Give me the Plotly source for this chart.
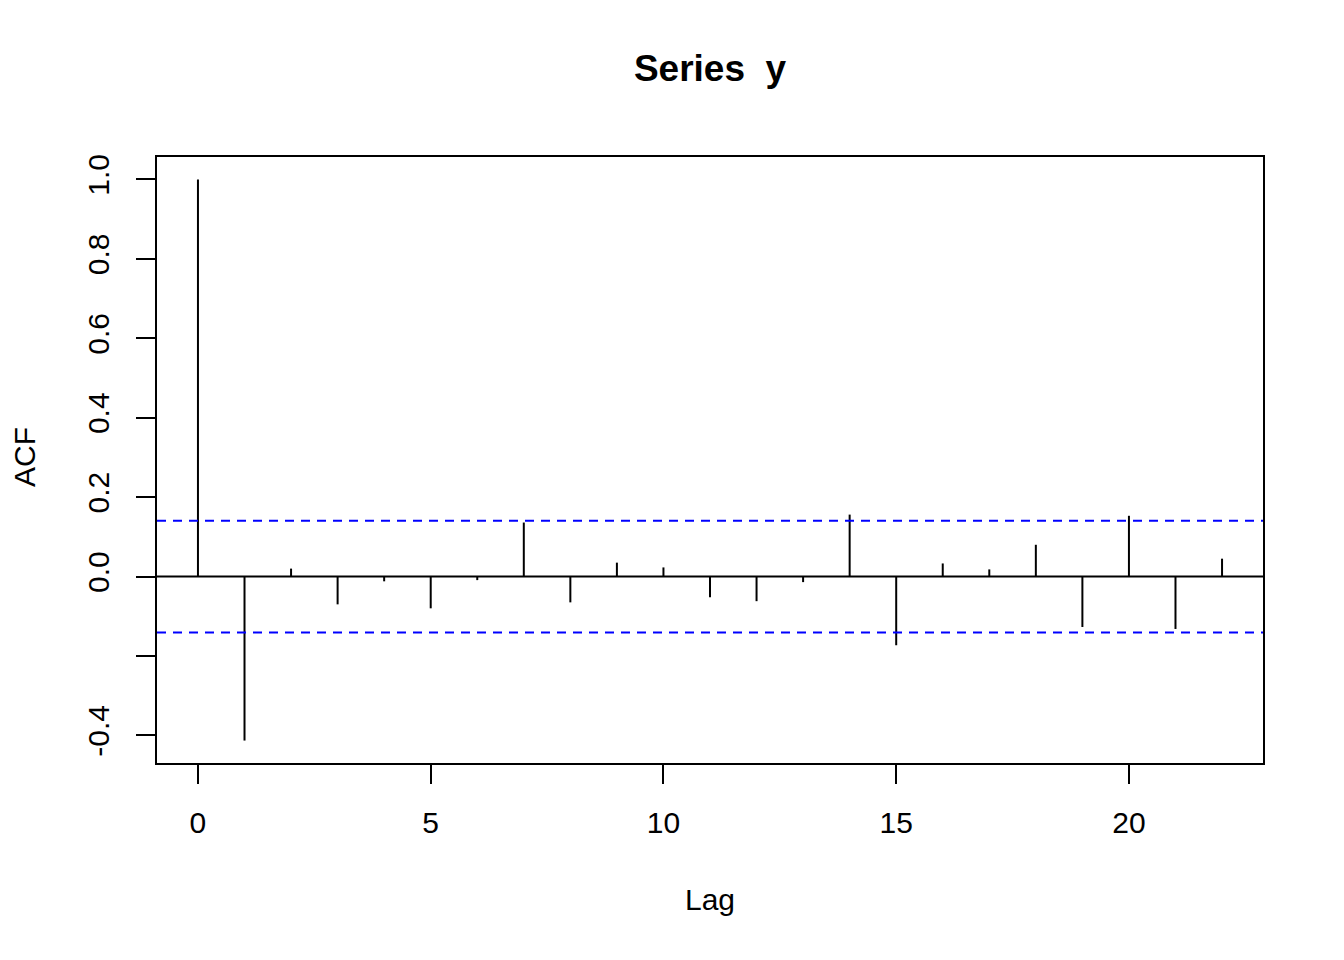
import plotly.graph_objects as go

lags = list(range(0, 23))
acf_values = [1.0, -0.413, 0.020, -0.070, -0.012, -0.080, -0.009, 0.136,
              -0.065, 0.035, 0.023, -0.052, -0.062, -0.014, 0.156, -0.173,
              0.033, 0.018, 0.080, -0.127, 0.153, -0.132, 0.045]
ci_bound = 0.1407
x_ticks = [0, 5, 10, 15, 20]
y_ticks = [-0.4, -0.2, 0.0, 0.2, 0.4, 0.6, 0.8, 1.0]
y_ticktext = ["-0.4", "", "0.0", "0.2", "0.4", "0.6", "0.8", "1.0"]

FONT = "Liberation Sans, Arial, sans-serif"
OFF = 8  # page offset of the plot div

xs, ys = [], []
for lag, v in zip(lags, acf_values):
    xs += [lag, lag, None]
    ys += [0, v, None]

fig = go.Figure()
fig.add_trace(go.Scatter(x=xs, y=ys, mode="lines",
                         line=dict(color="black", width=2),
                         hoverinfo="skip", showlegend=False))

fig.add_shape(type="line", xref="paper", yref="y", x0=0, x1=1, y0=0, y1=0,
              line=dict(color="black", width=2))
for b in (ci_bound, -ci_bound):
    fig.add_shape(type="line", xref="paper", yref="y", x0=0, x1=1, y0=b, y1=b,
                  line=dict(color="#0000FF", width=2, dash="9px,7px"))

lo = min(acf_values); hi = max(acf_values)
pad = (hi - lo) * 0.04
xpad = (max(lags) - min(lags)) * 0.04

L, R, T, B = 157, 1263, 157, 763  # plot box in page pixels
W, H = 1344, 960

fig.update_layout(
    width=W, height=H,
    paper_bgcolor="white", plot_bgcolor="white",
    margin=dict(l=L - OFF, r=W - R + OFF, t=T - OFF, b=H - B + OFF),
    font=dict(family=FONT, size=30, color="black"),
    title=dict(text="<b>Series\u00a0 y</b>", x=(710 - OFF) / W, xanchor="center",
               y=1 - (68 - OFF) / H, yanchor="middle",
               font=dict(family=FONT, size=37, color="black")),
    showlegend=False,
)
fig.update_xaxes(range=[min(lags) - xpad, max(lags) + xpad],
                 tickvals=x_ticks, ticktext=[str(t) for t in x_ticks],
                 showgrid=False, zeroline=False,
                 showline=True, mirror=True, linecolor="black", linewidth=2,
                 ticks="outside", ticklen=19, tickwidth=2, tickcolor="black",
                 tickfont=dict(size=30), ticklabelstandoff=13)
fig.update_yaxes(range=[lo - pad, hi + pad],
                 tickvals=y_ticks, ticktext=y_ticktext, tickangle=-90,
                 showgrid=False, zeroline=False,
                 showline=True, mirror=True, linecolor="black", linewidth=2,
                 ticks="outside", ticklen=19, tickwidth=2, tickcolor="black",
                 tickfont=dict(size=30), ticklabelstandoff=15)

fig.add_annotation(text="Lag", xref="paper", yref="paper",
                   x=0.5, y=-(900 - B) / (B - T), xanchor="center", yanchor="middle",
                   showarrow=False, font=dict(size=30))
fig.add_annotation(text="ACF", xref="paper", yref="paper",
                   x=-(L - 24) / (R - L), y=(B - 457) / (B - T),
                   xanchor="center", yanchor="middle", textangle=-90,
                   showarrow=False, font=dict(size=30))

fig.write_html("out.html")
